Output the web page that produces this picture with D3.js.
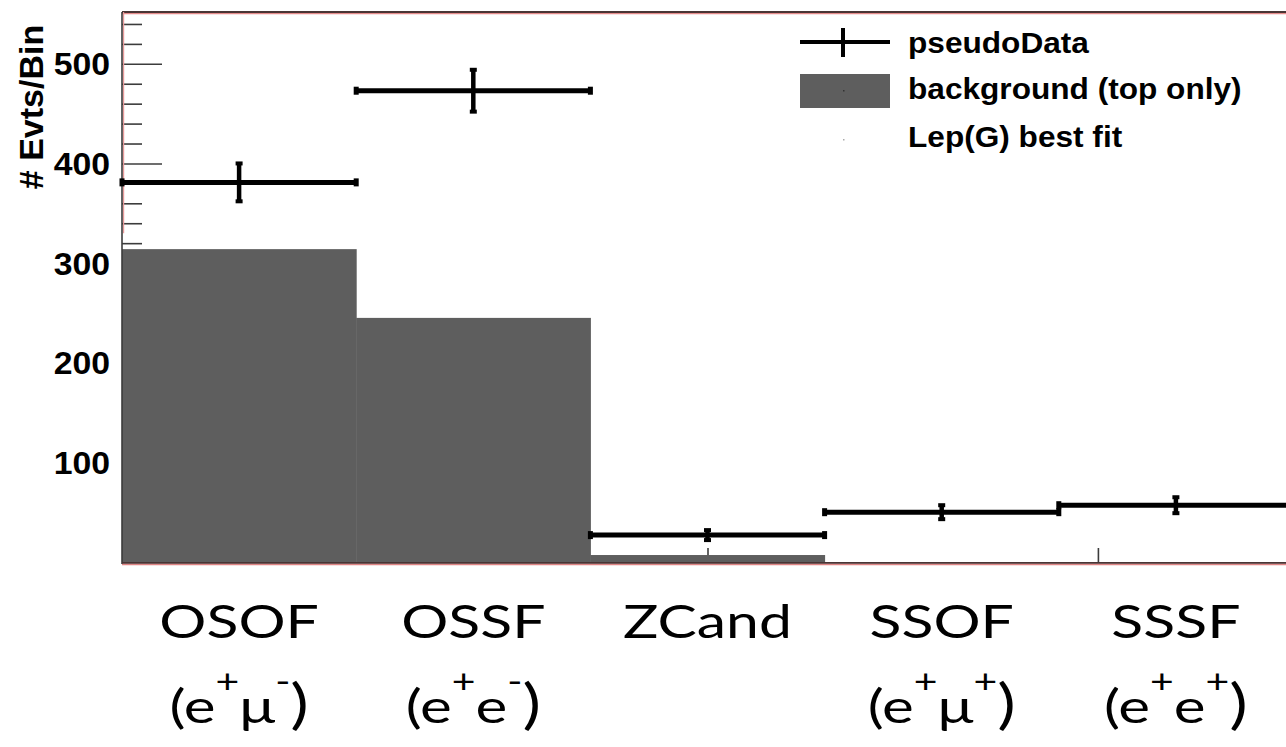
<!DOCTYPE html>
<html>
<head>
<meta charset="utf-8">
<script src="https://cdn.jsdelivr.net/npm/d3@7"></script>
<style>
  html, body { margin: 0; padding: 0; background: #fff; }
  svg { display: block; }
</style>
</head>
<body>
<svg id="chart" width="1286" height="747"></svg>
<script>
// Channel categories along the x axis
const categories = ["OSOF", "OSSF", "ZCand", "SSOF", "SSSF"];
// Charge-combination sub labels, split into plain / superscript pieces
const chargeLabels = [
  [["(e", 0], ["+", 1], ["μ", 0], ["-", 1], [")", 0]],
  [["(e", 0], ["+", 1], ["e", 0], ["-", 1], [")", 0]],
  [],
  [["(e", 0], ["+", 1], ["μ", 0], ["+", 1], [")", 0]],
  [["(e", 0], ["+", 1], ["e", 0], ["+", 1], [")", 0]]
];
// Event counts per bin
const pseudoData = [381, 473, 27, 50, 57];
const pseudoDataErr = [19, 21, 5, 7, 8];
const background = [314, 245, 7, 0, 0];
// Axis ticks
const yMajorTicks = [100, 200, 300, 400, 500];
const yMinorTicks = d3.range(0, 560, 20);
const xAxisTicks = [0.833, 2.5, 4.167];
const legendLabels = ["pseudoData", "background (top only)", "Lep(G) best fit"];

const svg = d3.select("#chart");
const plot = { left: 122, right: 1293, top: 12, bottom: 562 };

const x = d3.scaleLinear().domain([0, categories.length]).range([plot.left, plot.right]);
const y = d3.scaleLinear().domain([0, 552]).range([plot.bottom, plot.top]);
const binW = x(1) - x(0);

const axisColor = "#3c3c3c";
const barColor = "#5e5e5e";
const helv = "'Liberation Sans', Arial, sans-serif";
const wide = 1.09; // horizontal widening of the Helvetica-style labels

// Inward y ticks (minor and major) on the left frame
const yMinorAxis = d3.axisRight(y).tickValues(yMinorTicks.filter(v => yMajorTicks.indexOf(v) < 0 && v > 0))
  .tickSize(20).tickFormat("");
svg.append("g").attr("transform", `translate(${plot.left},0)`).call(yMinorAxis)
  .call(g => g.select(".domain").remove())
  .selectAll("line").attr("stroke", axisColor).attr("stroke-width", 1.6);

const yMajorAxis = d3.axisRight(y).tickValues(yMajorTicks).tickSize(40).tickFormat("");
svg.append("g").attr("transform", `translate(${plot.left},0)`).call(yMajorAxis)
  .call(g => g.select(".domain").remove())
  .selectAll("line").attr("stroke", axisColor).attr("stroke-width", 1.6);

// Tick labels to the left of the frame
const yLabelAxis = d3.axisLeft(y).tickValues(yMajorTicks).tickSize(0).tickFormat(d3.format("d"));
const yLab = svg.append("g").attr("transform", `translate(${plot.left},0)`).call(yLabelAxis);
yLab.select(".domain").remove();
yLab.selectAll(".tick text")
  .attr("x", 0)
  .attr("transform", `translate(-12,0) scale(${wide},1)`)
  .attr("text-anchor", "end")
  .attr("font-family", helv)
  .attr("font-weight", "bold")
  .attr("font-size", 31)
  .attr("fill", "#000")
  .attr("dy", "0.36em");

// Short x ticks rising from the bottom frame
const xTickAxis = d3.axisTop(x).tickValues(xAxisTicks).tickSize(14).tickFormat("");
svg.append("g").attr("transform", `translate(0,${plot.bottom})`).call(xTickAxis)
  .call(g => g.select(".domain").remove())
  .selectAll("line").attr("stroke", axisColor).attr("stroke-width", 1.6);

// Background histogram
svg.append("g").selectAll("rect").data(background).join("rect")
  .attr("x", (d, i) => x(i))
  .attr("y", d => y(d))
  .attr("width", binW + 0.5)
  .attr("height", d => y(0) - y(d))
  .attr("fill", barColor);

// Frame: dark line with a faint red edge
const frame = svg.append("g");
frame.append("line").attr("x1", plot.left).attr("x2", 1286).attr("y1", plot.top + 1.5).attr("y2", plot.top + 1.5)
  .attr("stroke", "#e58b8b").attr("stroke-width", 1.6);
frame.append("line").attr("x1", plot.left).attr("x2", 1286).attr("y1", plot.top).attr("y2", plot.top)
  .attr("stroke", "#4a3535").attr("stroke-width", 1.8);
frame.append("line").attr("x1", plot.left + 1.6).attr("x2", plot.left + 1.6).attr("y1", plot.top).attr("y2", y(330))
  .attr("stroke", "#e79a9a").attr("stroke-width", 1.2);
frame.append("line").attr("x1", plot.left).attr("x2", plot.left).attr("y1", plot.top).attr("y2", plot.bottom + 2)
  .attr("stroke", axisColor).attr("stroke-width", 1.6);
frame.append("line").attr("x1", plot.left).attr("x2", 1286).attr("y1", plot.bottom + 2.4).attr("y2", plot.bottom + 2.4)
  .attr("stroke", "#e08585").attr("stroke-width", 1.6);
frame.append("line").attr("x1", plot.left).attr("x2", 1286).attr("y1", plot.bottom + 0.8).attr("y2", plot.bottom + 0.8)
  .attr("stroke", "#4a3535").attr("stroke-width", 1.8);

// Pseudo-data points: bin-width horizontal bar plus vertical error bar
const pts = svg.append("g").selectAll("g").data(pseudoData).join("g");
pts.append("line")
  .attr("x1", (d, i) => x(i)).attr("x2", (d, i) => x(i + 1))
  .attr("y1", d => y(d)).attr("y2", d => y(d))
  .attr("stroke", "#000").attr("stroke-width", 5);
pts.append("line")
  .attr("x1", (d, i) => x(i + 0.5)).attr("x2", (d, i) => x(i + 0.5))
  .attr("y1", (d, i) => y(d + pseudoDataErr[i])).attr("y2", (d, i) => y(d - pseudoDataErr[i]))
  .attr("stroke", "#000").attr("stroke-width", 4.5);
// end caps on the horizontal bar
[0, 1].forEach(k => {
  pts.append("rect")
    .attr("x", (d, i) => x(i + k) - 2.5).attr("y", d => y(d) - 4)
    .attr("width", 5).attr("height", 8).attr("fill", "#000");
});
// end caps on the error bar
[1, -1].forEach(s => {
  pts.append("rect")
    .attr("x", (d, i) => x(i + 0.5) - 3.5)
    .attr("y", (d, i) => y(d + s * pseudoDataErr[i]) - 2)
    .attr("width", 7).attr("height", 4).attr("fill", "#000");
});

// Legend
const legend = svg.append("g");
const lgX0 = 800, lgX1 = 890, lgTextX = 908;
const rowY = [42, 91, 140];
const rowText = [53, 99, 147];
legend.append("line").attr("x1", lgX0).attr("x2", lgX1).attr("y1", rowY[0]).attr("y2", rowY[0])
  .attr("stroke", "#000").attr("stroke-width", 4);
legend.append("line").attr("x1", (lgX0 + lgX1) / 2 - 2).attr("x2", (lgX0 + lgX1) / 2 - 2)
  .attr("y1", rowY[0] - 14).attr("y2", rowY[0] + 15)
  .attr("stroke", "#000").attr("stroke-width", 4);
legend.append("rect").attr("x", lgX0).attr("y", rowY[1] - 17).attr("width", lgX1 - lgX0).attr("height", 34)
  .attr("fill", barColor);
legend.append("rect").attr("x", (lgX0 + lgX1) / 2 - 2).attr("y", rowY[1] - 1).attr("width", 1.5).attr("height", 1.5)
  .attr("fill", "#333");
legend.append("rect").attr("x", (lgX0 + lgX1) / 2 - 2).attr("y", rowY[2] - 1).attr("width", 1.5).attr("height", 1.5)
  .attr("fill", "#aaa");
legend.selectAll("text").data(legendLabels).join("text")
  .attr("transform", (d, i) => `translate(${lgTextX},${rowText[i]}) scale(${wide},1)`)
  .attr("font-family", helv)
  .attr("font-weight", "bold")
  .attr("font-size", 29)
  .attr("fill", "#000")
  .text(d => d);

// Y axis title
svg.append("text")
  .attr("transform", `translate(43,${107}) rotate(-90)`)
  .attr("text-anchor", "middle")
  .attr("font-family", helv)
  .attr("font-weight", "bold")
  .attr("font-size", 34)
  .attr("fill", "#000")
  .text("# Evts/Bin");

// Category labels beneath the plot
const catFont = "Lato, 'Open Sans', sans-serif";
const catWide = 1.28;
svg.append("g").selectAll("text").data(categories).join("text")
  .attr("transform", (d, i) => `translate(${x(i + 0.5)},638) scale(${catWide},1)`)
  .attr("text-anchor", "middle")
  .attr("font-family", catFont)
  .attr("font-size", 46)
  .attr("fill", "#000")
  .text(d => d);

const sub = svg.append("g").selectAll("text").data(chargeLabels).join("text")
  .attr("transform", (d, i) => `translate(${x(i + 0.5)},723) scale(${catWide},1)`)
  .attr("text-anchor", "middle")
  .attr("font-family", catFont)
  .attr("font-size", 47)
  .attr("fill", "#000");
sub.each(function(parts) {
  const t = d3.select(this);
  let raised = false;
  parts.forEach(([txt, sup]) => {
    const ts = t.append("tspan").text(txt);
    if (txt === "(" || txt === ")") ts.attr("font-size", 54);
    if (sup && !raised) { ts.attr("dy", -30).attr("font-size", 32); raised = true; }
    else if (sup && raised) { ts.attr("font-size", 32); }
    else if (!sup && raised) { ts.attr("dy", 30); raised = false; }
  });
});
</script>
</body>
</html>
